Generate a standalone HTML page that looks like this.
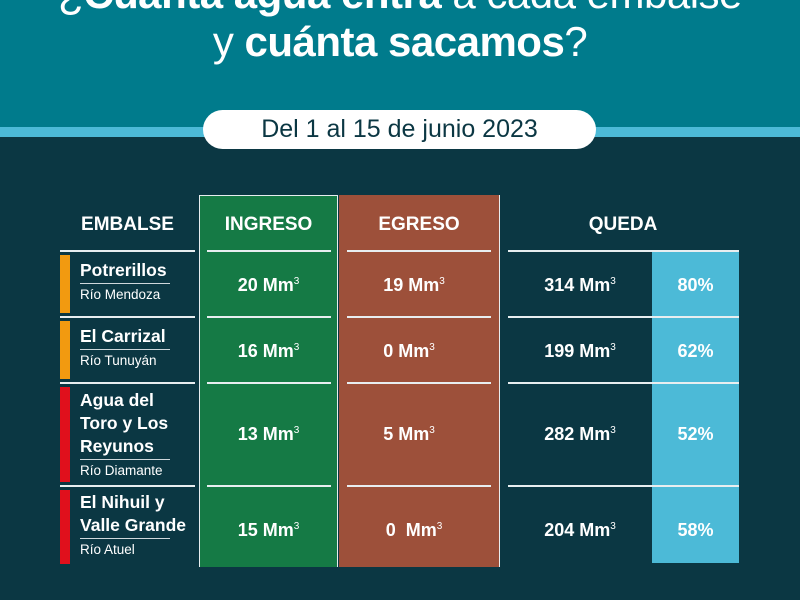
<!DOCTYPE html>
<html><head><meta charset="utf-8"><style>
*{margin:0;padding:0;box-sizing:border-box}
body{width:800px;height:600px;overflow:hidden;background:#0b3743;font-family:"Liberation Sans",sans-serif;color:#fff;position:relative}
.a{position:absolute}
.t{position:absolute;left:0;width:800px;text-align:center;font-size:42px;letter-spacing:-0.5px}
.c{position:absolute;text-align:center;font-size:18px;font-weight:bold}
.c sup{font-size:10px;font-weight:normal;vertical-align:7px}
.h{position:absolute;text-align:center;font-size:19px;font-weight:bold}
.ln{position:absolute;height:2px;background:#e8eef0}
.nm{position:absolute;left:80px;font-size:17.5px;font-weight:bold;line-height:23px}
.rv{font-size:13.5px;font-weight:normal;border-top:1px solid #cfd8dc;display:inline-block;padding-top:2px;line-height:17px;width:90px}
.bar{position:absolute;left:60px;width:10px}
</style></head><body>
<div class="a" style="left:0;top:0;width:800px;height:127px;background:#007b8c"></div>
<div class="a" style="left:0;top:127px;width:800px;height:10px;background:#4cbad7"></div>
<div class="t" style="top:-30px">¿<b>Cuánta agua entra</b> a cada embalse</div>
<div class="t" style="top:18px">y <b>cuánta sacamos</b>?</div>
<div class="a" style="left:203px;top:110px;width:393px;height:39px;background:#fff;border-radius:20px;color:#0b3743;font-size:25px;text-align:center;line-height:39px">Del 1 al 15 de junio 2023</div>

<div class="a" style="left:199px;top:195px;width:139px;height:372px;background:#157a45;border:1.5px solid #e8eef0;border-bottom:none"></div>
<div class="a" style="left:339px;top:195px;width:161px;height:372px;background:#9d503a;border-right:1.5px solid #e8eef0"></div>
<div class="a" style="left:652px;top:251px;width:87px;height:312px;background:#4cbad7"></div>

<div class="h" style="left:60px;width:135px;top:214px">EMBALSE</div>
<div class="h" style="left:200px;width:137px;top:214px">INGRESO</div>
<div class="h" style="left:339px;width:160px;top:214px">EGRESO</div>
<div class="h" style="left:508px;width:230px;top:214px">QUEDA</div>

<div class="ln" style="left:60px;width:135px;top:250px"></div>
<div class="ln" style="left:207px;width:124px;top:250px"></div>
<div class="ln" style="left:347px;width:144px;top:250px"></div>
<div class="ln" style="left:508px;width:231px;top:250px"></div>
<div class="ln" style="left:60px;width:135px;top:316px"></div>
<div class="ln" style="left:207px;width:124px;top:316px"></div>
<div class="ln" style="left:347px;width:144px;top:316px"></div>
<div class="ln" style="left:508px;width:231px;top:316px"></div>
<div class="ln" style="left:60px;width:135px;top:382px"></div>
<div class="ln" style="left:207px;width:124px;top:382px"></div>
<div class="ln" style="left:347px;width:144px;top:382px"></div>
<div class="ln" style="left:508px;width:231px;top:382px"></div>
<div class="ln" style="left:60px;width:135px;top:485px"></div>
<div class="ln" style="left:207px;width:124px;top:485px"></div>
<div class="ln" style="left:347px;width:144px;top:485px"></div>
<div class="ln" style="left:508px;width:231px;top:485px"></div>

<div class="bar" style="top:255px;height:58px;background:#f29a10"></div>
<div class="bar" style="top:321px;height:58px;background:#f29a10"></div>
<div class="bar" style="top:387px;height:95px;background:#e0101c"></div>
<div class="bar" style="top:490px;height:74px;background:#e0101c"></div>

<div class="nm" style="top:259px">Potrerillos<br><span class="rv">Río Mendoza</span></div>
<div class="nm" style="top:325px">El Carrizal<br><span class="rv">Río Tunuyán</span></div>
<div class="nm" style="top:389px">Agua del<br>Toro y Los<br>Reyunos<br><span class="rv">Río Diamante</span></div>
<div class="nm" style="top:491px">El Nihuil y<br>Valle Grande<br><span class="rv">Río Atuel</span></div>

<div class="c" style="left:200px;width:137px;top:275px">20 Mm<sup>3</sup></div>
<div class="c" style="left:200px;width:137px;top:341px">16 Mm<sup>3</sup></div>
<div class="c" style="left:200px;width:137px;top:424px">13 Mm<sup>3</sup></div>
<div class="c" style="left:200px;width:137px;top:520px">15 Mm<sup>3</sup></div>
<div class="c" style="left:339px;width:150px;top:275px">19 Mm<sup>3</sup></div>
<div class="c" style="left:339px;width:140px;top:341px">0 Mm<sup>3</sup></div>
<div class="c" style="left:339px;width:140px;top:424px">5 Mm<sup>3</sup></div>
<div class="c" style="left:339px;width:150px;top:520px">0&nbsp; Mm<sup>3</sup></div>
<div class="c" style="left:520px;width:120px;top:275px">314 Mm<sup>3</sup></div>
<div class="c" style="left:520px;width:120px;top:341px">199 Mm<sup>3</sup></div>
<div class="c" style="left:520px;width:120px;top:424px">282 Mm<sup>3</sup></div>
<div class="c" style="left:520px;width:120px;top:520px">204 Mm<sup>3</sup></div>
<div class="c" style="left:652px;width:87px;top:275px">80%</div>
<div class="c" style="left:652px;width:87px;top:341px">62%</div>
<div class="c" style="left:652px;width:87px;top:424px">52%</div>
<div class="c" style="left:652px;width:87px;top:520px">58%</div>
</body></html>
